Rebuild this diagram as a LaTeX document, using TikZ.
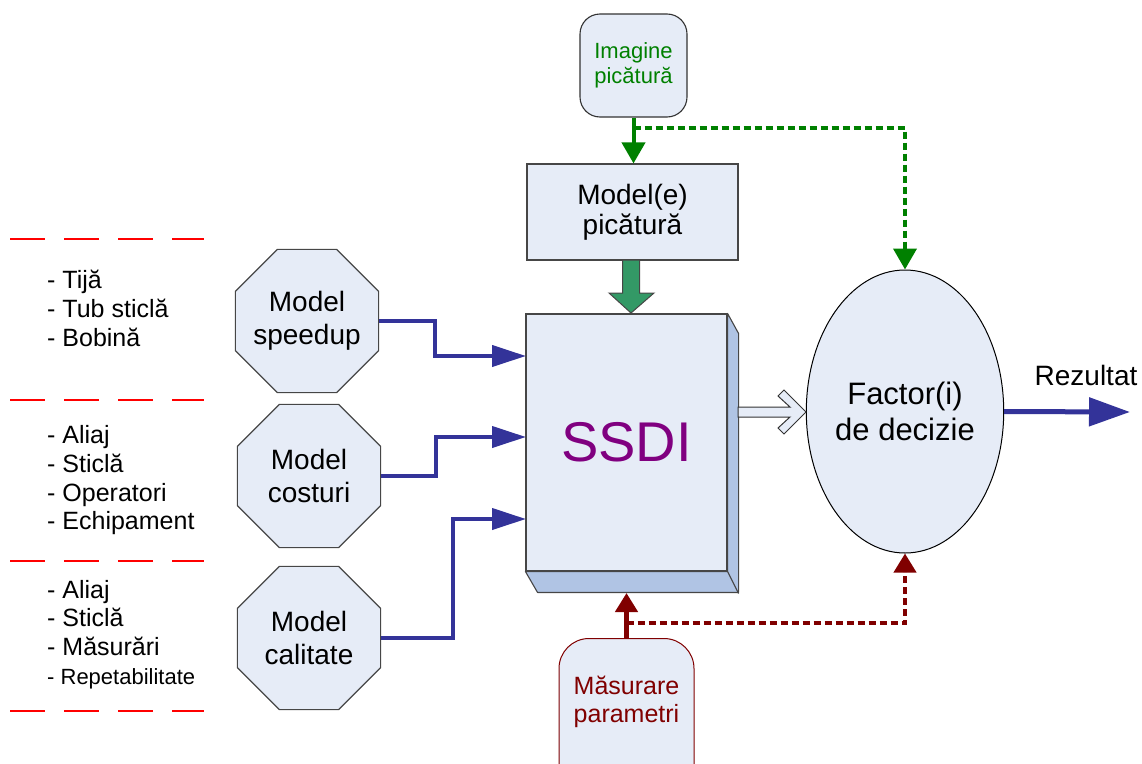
\documentclass[tikz,border=0pt]{standalone}
\usepackage{fontspec}
\setmainfont{Liberation Sans}
\usetikzlibrary{arrows.meta,shapes.geometric,calc}

\definecolor{boxfill}{RGB}{230,236,247}
\definecolor{sidefill}{RGB}{176,196,228}
\definecolor{linkblue}{RGB}{51,51,153}
\definecolor{imggreen}{RGB}{0,128,0}
\definecolor{blockgreen}{RGB}{51,153,102}
\definecolor{measred}{RGB}{128,0,0}
\definecolor{ssdipurple}{RGB}{128,0,128}
\definecolor{edgegray}{RGB}{70,70,70}

\newcommand{\fs}[2]{\fontsize{#1}{#2}\selectfont}

\begin{document}
\begin{tikzpicture}[x=1pt,y=-1pt,
  octa/.style={draw=edgegray, fill=boxfill, line width=1.1pt, regular polygon,
    regular polygon sides=8, minimum size=155pt, inner sep=-20pt, align=center,
    font=\fs{28}{33}},
  plainbox/.style={draw=edgegray, fill=boxfill, line width=1.1pt, inner sep=0pt,
    align=center},
  listitem/.style={anchor=base west, inner sep=0pt, font=\fs{25}{29}},
  separator/.style={red, line width=2pt, dash pattern=on 35pt off 19pt},
  bluelink/.style={linkblue, line width=4pt,
    -{Triangle[length=34pt,width=21pt]}},
  greenlink/.style={imggreen, line width=4pt,
    -{Triangle[length=21pt,width=23pt]}},
  redlink/.style={measred, line width=4.5pt,
    -{Triangle[length=19pt,width=22pt]}},
  dotted link/.style={dash pattern=on 7pt off 4pt}
]
\useasboundingbox (0,0) rectangle (1142,763);

% ---------- input lists on the left ----------
\foreach \y in {239,400,561,711}
  \draw[separator] (10,\y) -- (204,\y);

\node[listitem] (l1a) at (47,288) {- Tijă};
\node[listitem] (l1b) at (47,317) {- Tub sticlă};
\node[listitem] (l1c) at (47,346) {- Bobină};

\node[listitem] (l2a) at (47,443) {- Aliaj};
\node[listitem] (l2b) at (47,472) {- Sticlă};
\node[listitem] (l2c) at (47,501) {- Operatori};
\node[listitem] (l2d) at (47,529) {- Echipament};

\node[listitem] (l3a) at (47,598) {- Aliaj};
\node[listitem] (l3b) at (47,626) {- Sticlă};
\node[listitem] (l3c) at (47,655) {- Măsurări};
\node[listitem, font=\fs{22}{27}] (l3d) at (47,684) {- Repetabilitate};

% ---------- models ----------
\node[octa] (sp) at (307,321) {Model\\speedup};
\node[octa] (co) at (309,476) {Model\\costuri};
\node[octa] (ca) at (309,638) {Model\\calitate};

% ---------- SSDI block (front face plus depth faces) ----------
\node[plainbox, minimum width=201pt, minimum height=257pt, text=ssdipurple,
  font=\fs{56}{60}] (ssdi) at (626.5,442.5) {SSDI};
\draw[draw=edgegray, fill=sidefill, line width=1.1pt, line join=round]
  (ssdi.north east) -- ++(11,20) -- ++(0,259) -- ++(-201,0)
  -- (ssdi.south west) -- (ssdi.south east) -- cycle;
\draw[edgegray, line width=1.1pt] (ssdi.south east) -- ++(11,22);

\coordinate (in1) at (526,356);
\coordinate (in2) at (526,437);
\coordinate (in3) at (526,519);

\draw[bluelink] (sp.east) -- ++(56,0) |- (in1);
\draw[bluelink] (co.east) -- ++(55,0) |- (in2);
\draw[bluelink] (ca.east) -- ++(72,0) |- (in3);

% ---------- droplet image and models ----------
\node[plainbox, draw=black!80, rounded corners=20pt, minimum width=107pt,
  minimum height=103pt, text=imggreen, font=\fs{22}{25}] (img) at (633.5,65.5)
  {Imagine\\picătură};
\node[plainbox, minimum width=211pt, minimum height=96pt, font=\fs{28}{30}]
  (mod) at (632.5,212) {Model(e)\\picătură};

% wide arrow from the droplet models into SSDI
\draw[draw=edgegray, fill=blockgreen, line width=1pt, line join=miter]
  (622.5,260) -- (639.5,260) -- (639.5,293) -- (654,293) -- (631,313)
  -- (609,293) -- (622.5,293) -- cycle;

% ---------- decision factors ----------
\node[ellipse, draw=black, fill=boxfill, line width=1pt, minimum width=194pt,
  minimum height=283pt, inner sep=0pt, align=center, font=\fs{31}{36}]
  (dec) at (905,411.5) {Factor(i)\\de decizie};

% hollow arrow from SSDI to the decision factors
\draw[draw=black!80, fill=boxfill, line width=1pt, line join=miter]
  (738,407) -- (790,407) -- (778,396) -- (784,390) -- (806,412)
  -- (784,434) -- (778,428) -- (790,417) -- (738,417) -- cycle;

\coordinate (res) at (1130,412);
\draw[linkblue, line width=5pt, -{Triangle[length=41pt,width=28pt]}]
  (dec.east) -- (res);
\node[font=\fs{28}{30}, anchor=base, inner sep=0pt] (reslbl) at (1086,385)
  {Rezultat};

% green links from the droplet image
\coordinate (gtap) at (633.5,128);
\draw[greenlink] (img.south) -- (img.south |- mod.north);
\draw[greenlink, dotted link] (gtap) -| (dec.north);

% ---------- parameter measurement ----------
\node[draw=measred, fill=boxfill, line width=1pt, rounded corners=30pt,
  minimum width=135pt, minimum height=160pt, inner sep=0pt, anchor=north]
  (mesbox) at (626.5,638) {};
\node[text=measred, align=center, font=\fs{25}{28}] (meslbl) at (626.5,702)
  {Măsurare\\parametri};

\coordinate (ssdibot) at (626.5,593);
\coordinate (rtap) at (626.5,623);
\draw[redlink] (mesbox.north) -- (ssdibot);
\draw[redlink, line width=4pt, dotted link] (rtap) -| (dec.south);

\end{tikzpicture}
\end{document}
